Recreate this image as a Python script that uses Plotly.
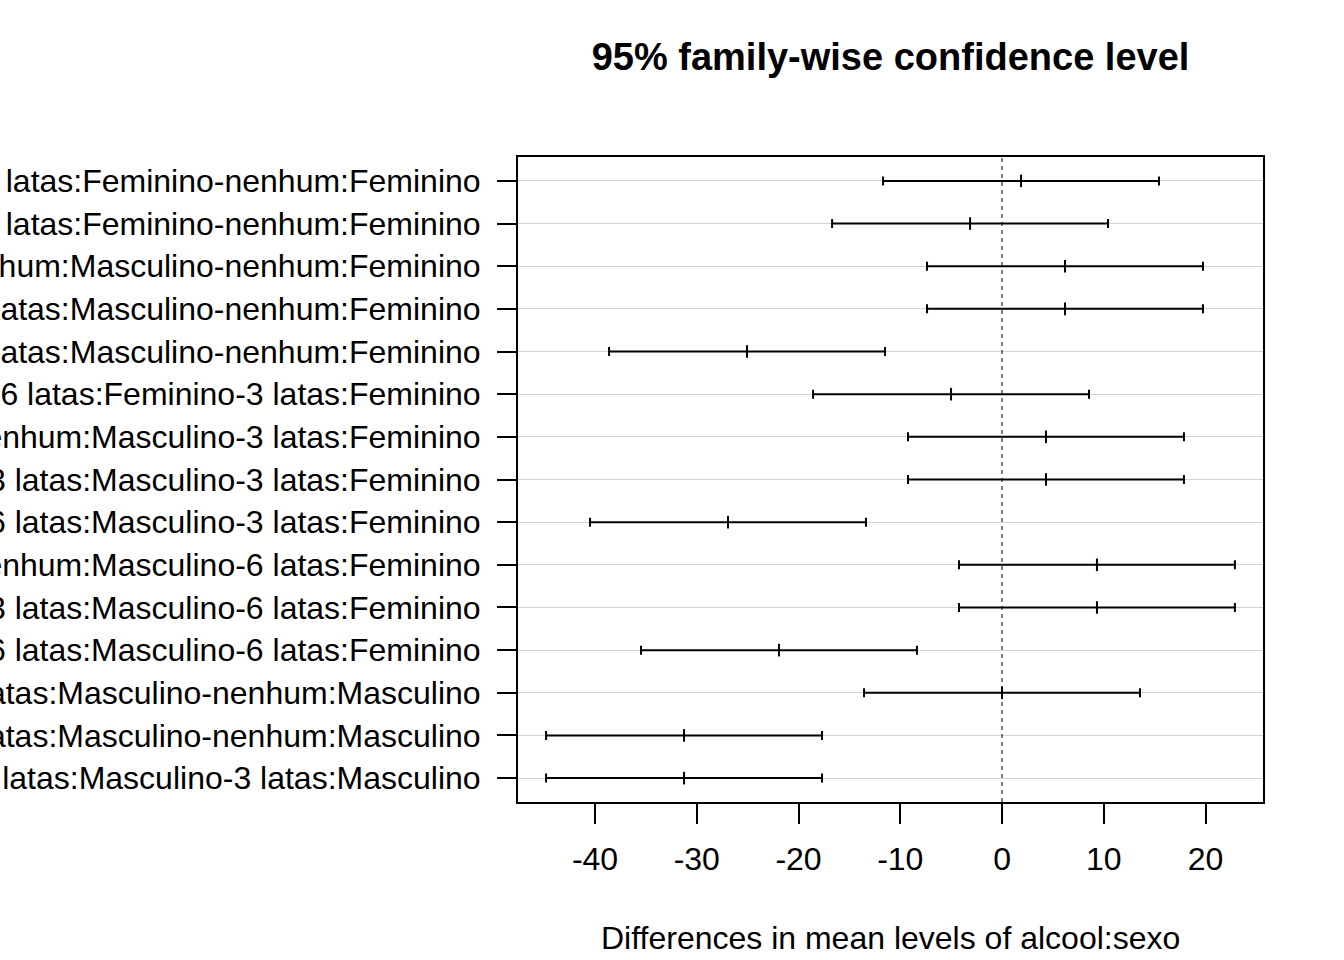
import plotly.graph_objects as go

comparisons = [
    "3 latas:Feminino-nenhum:Feminino",
    "6 latas:Feminino-nenhum:Feminino",
    "nenhum:Masculino-nenhum:Feminino",
    "3 latas:Masculino-nenhum:Feminino",
    "6 latas:Masculino-nenhum:Feminino",
    "6 latas:Feminino-3 latas:Feminino",
    "nenhum:Masculino-3 latas:Feminino",
    "3 latas:Masculino-3 latas:Feminino",
    "6 latas:Masculino-3 latas:Feminino",
    "nenhum:Masculino-6 latas:Feminino",
    "3 latas:Masculino-6 latas:Feminino",
    "6 latas:Masculino-6 latas:Feminino",
    "3 latas:Masculino-nenhum:Masculino",
    "6 latas:Masculino-nenhum:Masculino",
    "6 latas:Masculino-3 latas:Masculino",
]
diff = [1.87, -3.14, 6.19, 6.19, -25.06, -5.01, 4.32, 4.32, -26.93, 9.33, 9.33, -21.92, 0.0, -31.25, -31.25]
lwr = [-11.69, -16.70, -7.37, -7.37, -38.62, -18.57, -9.24, -9.24, -40.49, -4.23, -4.23, -35.48, -13.56, -44.81, -44.81]
upr = [15.43, 10.42, 19.75, 19.75, -11.50, 8.55, 17.88, 17.88, -13.37, 22.89, 22.89, -8.36, 13.56, -17.69, -17.69]
x_ticks = [-40, -30, -20, -10, 0, 10, 20]

n = len(comparisons)
ypos = list(range(n, 0, -1))

FONT = "Liberation Sans, Arial, sans-serif"
W, H = 1344, 960

fig = go.Figure()
fig.add_trace(go.Scatter(
    x=diff, y=ypos, mode="markers",
    marker=dict(symbol="line-ns", size=9, color="black", line=dict(color="black", width=2)),
    error_x=dict(type="data", symmetric=False,
                 array=[u - d for u, d in zip(upr, diff)],
                 arrayminus=[d - l for d, l in zip(diff, lwr)],
                 color="black", thickness=2, width=4.5),
    showlegend=False, hoverinfo="skip",
))

fig.add_shape(type="line", x0=0, x1=0, y0=0, y1=1, xref="x", yref="paper",
              line=dict(color="black", width=1, dash="4px,4px"))

fig.update_layout(
    width=W, height=H,
    margin=dict(l=518, r=81, t=157, b=158, autoexpand=False),
    paper_bgcolor="white", plot_bgcolor="white",
    font=dict(family=FONT, size=32, color="black"),
    title=dict(text="<b>95% family-wise confidence level</b>", x=(518 + 1263) / 2 / W, xanchor="center",
               y=1 - 57 / H, yanchor="middle", font=dict(size=38, family=FONT)),
    xaxis=dict(range=[-47.57, 25.65], tickvals=x_ticks, ticktext=[str(v) for v in x_ticks],
               showgrid=False, zeroline=False, showline=True, mirror=True, linecolor="black",
               linewidth=2, ticks="outside", ticklen=20, tickwidth=2, tickcolor="black",
               tickfont=dict(size=32), ticklabelstandoff=8, automargin=False),
    yaxis=dict(range=[0.44, 15.56], tickvals=ypos, ticktext=comparisons,
               showgrid=True, gridcolor="#d3d3d3", gridwidth=1, zeroline=False,
               showline=True, mirror=True, linecolor="black", linewidth=2,
               ticks="outside", ticklen=19, tickwidth=2, tickcolor="black",
               tickfont=dict(size=32), ticklabelstandoff=10, automargin=False),
    annotations=[dict(text="Differences in mean levels of alcool:sexo", xref="paper", yref="paper",
                      x=0.5, y=-(938 - 802) / 645, xanchor="center", yanchor="middle",
                      showarrow=False, font=dict(size=32, family=FONT))],
)

fig.write_html("out.html", config={"displayModeBar": False},
               post_script="document.body.style.margin='0';document.body.style.overflow='hidden';")
